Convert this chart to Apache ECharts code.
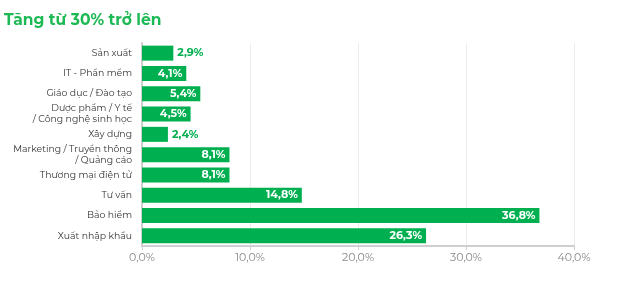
<!DOCTYPE html>
<html>
<head>
<meta charset="utf-8">
<script src="https://cdn.jsdelivr.net/npm/echarts@6/dist/echarts.min.js"></script>
<style>
    html, body { margin: 0; padding: 0; background: #fff; }
    #chart { width: 622px; height: 281px; }
</style>
</head>
<body>
<div id="chart"></div>
<script>
// Dữ liệu biểu đồ
const categories = [
    'Sản xuất',
    'IT - Phần mềm',
    'Giáo dục / Đào tạo',
    'Dược phẩm / Y tế\n/ Công nghệ sinh học',
    'Xây dựng',
    'Marketing / Truyền thông\n/ Quảng cáo',
    'Thương mại điện tử',
    'Tư vấn',
    'Bảo hiểm',
    'Xuất nhập khẩu'
];
const values = [2.9, 4.1, 5.4, 4.5, 2.4, 8.1, 8.1, 14.8, 36.8, 26.3];
const xTicks = [0, 10, 20, 30, 40];

const green = '#00b050';
const fontFamily = 'Montserrat, "Open Sans", "Noto Sans", sans-serif';

function fmt(v) {
    return v.toFixed(1).replace('.', ',') + '%';
}

document.addEventListener('DOMContentLoaded', function() {
    const chartDom = document.getElementById('chart');
    const myChart = echarts.init(chartDom);

    const barData = values.map(function(v) {
        const small = v < 3;
        return {
            value: v,
            label: {
                position: small ? 'right' : 'insideRight',
                color: small ? green : '#fff',
                distance: 4
            }
        };
    });

    const option = {
        textStyle: { fontFamily: fontFamily },
        title: {
            text: 'Tăng từ 30% trở lên',
            left: 4,
            top: 12,
            padding: 0,
            textStyle: {
                color: '#1db954',
                fontSize: 15.5,
                fontWeight: 'bold',
                fontFamily: fontFamily
            }
        },
        grid: {
            left: 142,
            right: 48,
            top: 43,
            bottom: 35
        },
        xAxis: {
            type: 'value',
            min: xTicks[0],
            max: xTicks[xTicks.length - 1],
            interval: 10,
            axisLine: { show: true, lineStyle: { color: '#cfcfcf', width: 2 } },
            axisTick: { show: true, length: 4, lineStyle: { color: '#cfcfcf' } },
            axisLabel: {
                color: '#888',
                fontSize: 11,
                margin: 6,
                formatter: function(v) { return fmt(v); }
            },
            splitLine: { show: true, lineStyle: { color: '#ececec' } }
        },
        yAxis: {
            type: 'category',
            inverse: true,
            data: categories,
            axisLine: { show: true, lineStyle: { color: '#cfcfcf', width: 2 } },
            axisTick: { show: false },
            axisLabel: {
                color: '#333',
                fontSize: 9.3,
                lineHeight: 11,
                margin: 10,
                align: 'right'
            }
        },
        series: [
            {
                type: 'bar',
                data: barData,
                barWidth: 15,
                itemStyle: { color: green },
                label: {
                    show: true,
                    fontWeight: 'bold',
                    fontSize: 11,
                    formatter: function(p) { return fmt(p.value); }
                },
                silent: true
            }
        ],
        animation: false
    };

    myChart.setOption(option);

    // 响应式调整
    window.addEventListener('resize', function() {
        myChart.resize();
    });
});
</script>
</body>
</html>
